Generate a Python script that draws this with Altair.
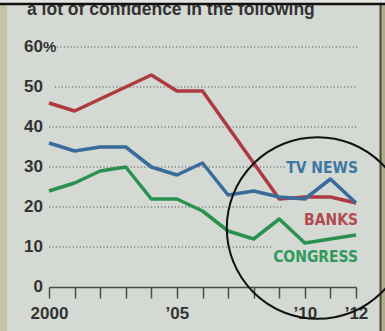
import altair as alt
import pandas as pd

# ---- data ----
years = list(range(2000, 2013))
banks = [46, 44, 47, 50, 53, 49, 49, 40, 31, 22, 22.5, 22.5, 21]
tv_news = [36, 34, 35, 35, 30, 28, 31, 23, 24, 22.5, 22, 27, 21]
congress = [24, 26, 29, 30, 22, 22, 19, 14, 12, 17, 11, 12, 13]

series_names = ["BANKS", "CONGRESS", "TV NEWS"]
series_values = [banks, congress, tv_news]
line_colors = ["#ad3a3e", "#2a9150", "#376c9b"]
label_colors = ["#b24a4f", "#2f9a5c", "#3d78a3"]
label_pos = [15.5, 6.2, 28.5]  # value at label baseline

y_ticks = [0, 10, 20, 30, 40, 50, 60]
y_tick_labels = ["0", "10", "20", "30", "40", "50", "60"]
x_tick_labels = {2000: "2000", 2005: "\u201905", 2010: "\u201910", 2012: "\u201912"}

grid_vals = [10, 20, 30, 40, 50, 60]
grid_from = [2000, 2000, 2000, 2000, 2000.23, 2000.31]
grid_to = [2008.76, 2009.15, 2009.23, 2012.04, 2012.04, 2012.08]

title_text = "a lot of confidence in the following"

FONT = "'DejaVu Sans Condensed', 'DejaVu Sans', sans-serif"
FONT2 = "'Liberation Sans', Arial, sans-serif"
BG = "#d5d9d4"

W, H = 307, 240
PAD = {"left": 49, "top": 47, "right": 29, "bottom": 44}

label_expr = " : ".join(
    f"datum.value == {k} ? '{v}'" for k, v in x_tick_labels.items()
) + " : ''"

x_enc = alt.X(
    "year:Q",
    scale=alt.Scale(domain=[2000, 2012], nice=False, zero=False),
    axis=alt.Axis(
        values=years, tickSize=11, tickWidth=1.5, tickColor="#4a4a4a",
        domainColor="#4a4a4a", domainWidth=1.5, grid=False,
        labelExpr=label_expr, labelFont=FONT2, labelFontSize=17,
        labelFontWeight="bold", labelColor="#333333", labelPadding=7,
        labelOverlap=False, labelFlush=False, title=None,
    ),
)
y_enc = alt.Y("value:Q", scale=alt.Scale(domain=[0, 60], nice=False), axis=None)

one = pd.DataFrame({"a": [0]})

# title (clipped by the scan's top border)
title = alt.Chart(one).mark_text(
    text=title_text, font=FONT2, fontSize=17.5, fontWeight="bold",
    color="#333333", align="left", baseline="alphabetic").encode(
    x=alt.value(-22), y=alt.value(-32))
top_cover = alt.Chart(one).mark_rect(color="#e2e4df").encode(
    x=alt.value(-49), x2=alt.value(336), y=alt.value(-47), y2=alt.value(-43.5))
top_line = alt.Chart(one).mark_rule(color="#111111", strokeWidth=2.5).encode(
    x=alt.value(-49), x2=alt.value(336), y=alt.value(-43))

# decorations (scan border)
left_strip = alt.Chart(one).mark_rect(color="#c4c3a3").encode(
    x=alt.value(-49), x2=alt.value(-42), y=alt.value(-43), y2=alt.value(284))
right_strip = alt.Chart(one).mark_rect(color="#aeac8c").encode(
    x=alt.value(331), x2=alt.value(336), y=alt.value(-43), y2=alt.value(284))
right_line = alt.Chart(one).mark_rule(color="#4a4a36", strokeWidth=2).encode(
    x=alt.value(331.5), y=alt.value(-43), y2=alt.value(284))

grid_df = pd.DataFrame({"value": grid_vals, "year": grid_from, "year2": grid_to})
grid = alt.Chart(grid_df).mark_rule(
    color="#555555", strokeWidth=1.2, strokeDash=[1.2, 2.2]).encode(
    x=x_enc, x2="year2:Q", y=y_enc)

ytl_df = pd.DataFrame({"value": y_ticks, "label": y_tick_labels})
ytl = alt.Chart(ytl_df).mark_text(
    font=FONT2, fontSize=17, fontWeight="bold", color="#333333",
    align="right", baseline="middle").encode(
    x=alt.value(-6), y=y_enc, text="label:N")
pct = alt.Chart(pd.DataFrame({"value": [60]})).mark_text(
    text="%", font=FONT2, fontSize=15, fontWeight="bold", color="#333333",
    align="left", baseline="middle").encode(x=alt.value(-6), y=y_enc)

line_layers = []
label_layers = []
for name, vals, lc, tc, lp in zip(series_names, series_values, line_colors,
                                  label_colors, label_pos):
    d = pd.DataFrame({"year": years, "value": vals})
    line_layers.append(
        alt.Chart(d).mark_line(color=lc, strokeWidth=3.5, strokeJoin="round")
        .encode(x=x_enc, y=y_enc))
    label_layers.append(
        alt.Chart(pd.DataFrame({"year": [2012], "value": [lp], "t": [name]}))
        .mark_text(font=FONT, fontSize=15.5, fontWeight="bold", color=tc,
                   align="right", baseline="alphabetic", dx=2)
        .encode(x=x_enc, y=y_enc, text="t:N"))

circle = alt.Chart(pd.DataFrame({"year": [2010.5], "value": [14.75]})).mark_point(
    shape="circle", filled=False, stroke="#111111", strokeWidth=2,
    size=33000, opacity=1).encode(x=x_enc, y=y_enc)

chart = alt.layer(
    left_strip, right_strip, right_line, title, top_cover, top_line, grid,
    ytl, pct, *line_layers, *label_layers, circle,
).properties(
    width=W, height=H, padding=PAD, autosize="none", background=BG,
).configure_view(stroke=None)

chart.save("out.html", embed_options={"renderer": "svg", "actions": False})
